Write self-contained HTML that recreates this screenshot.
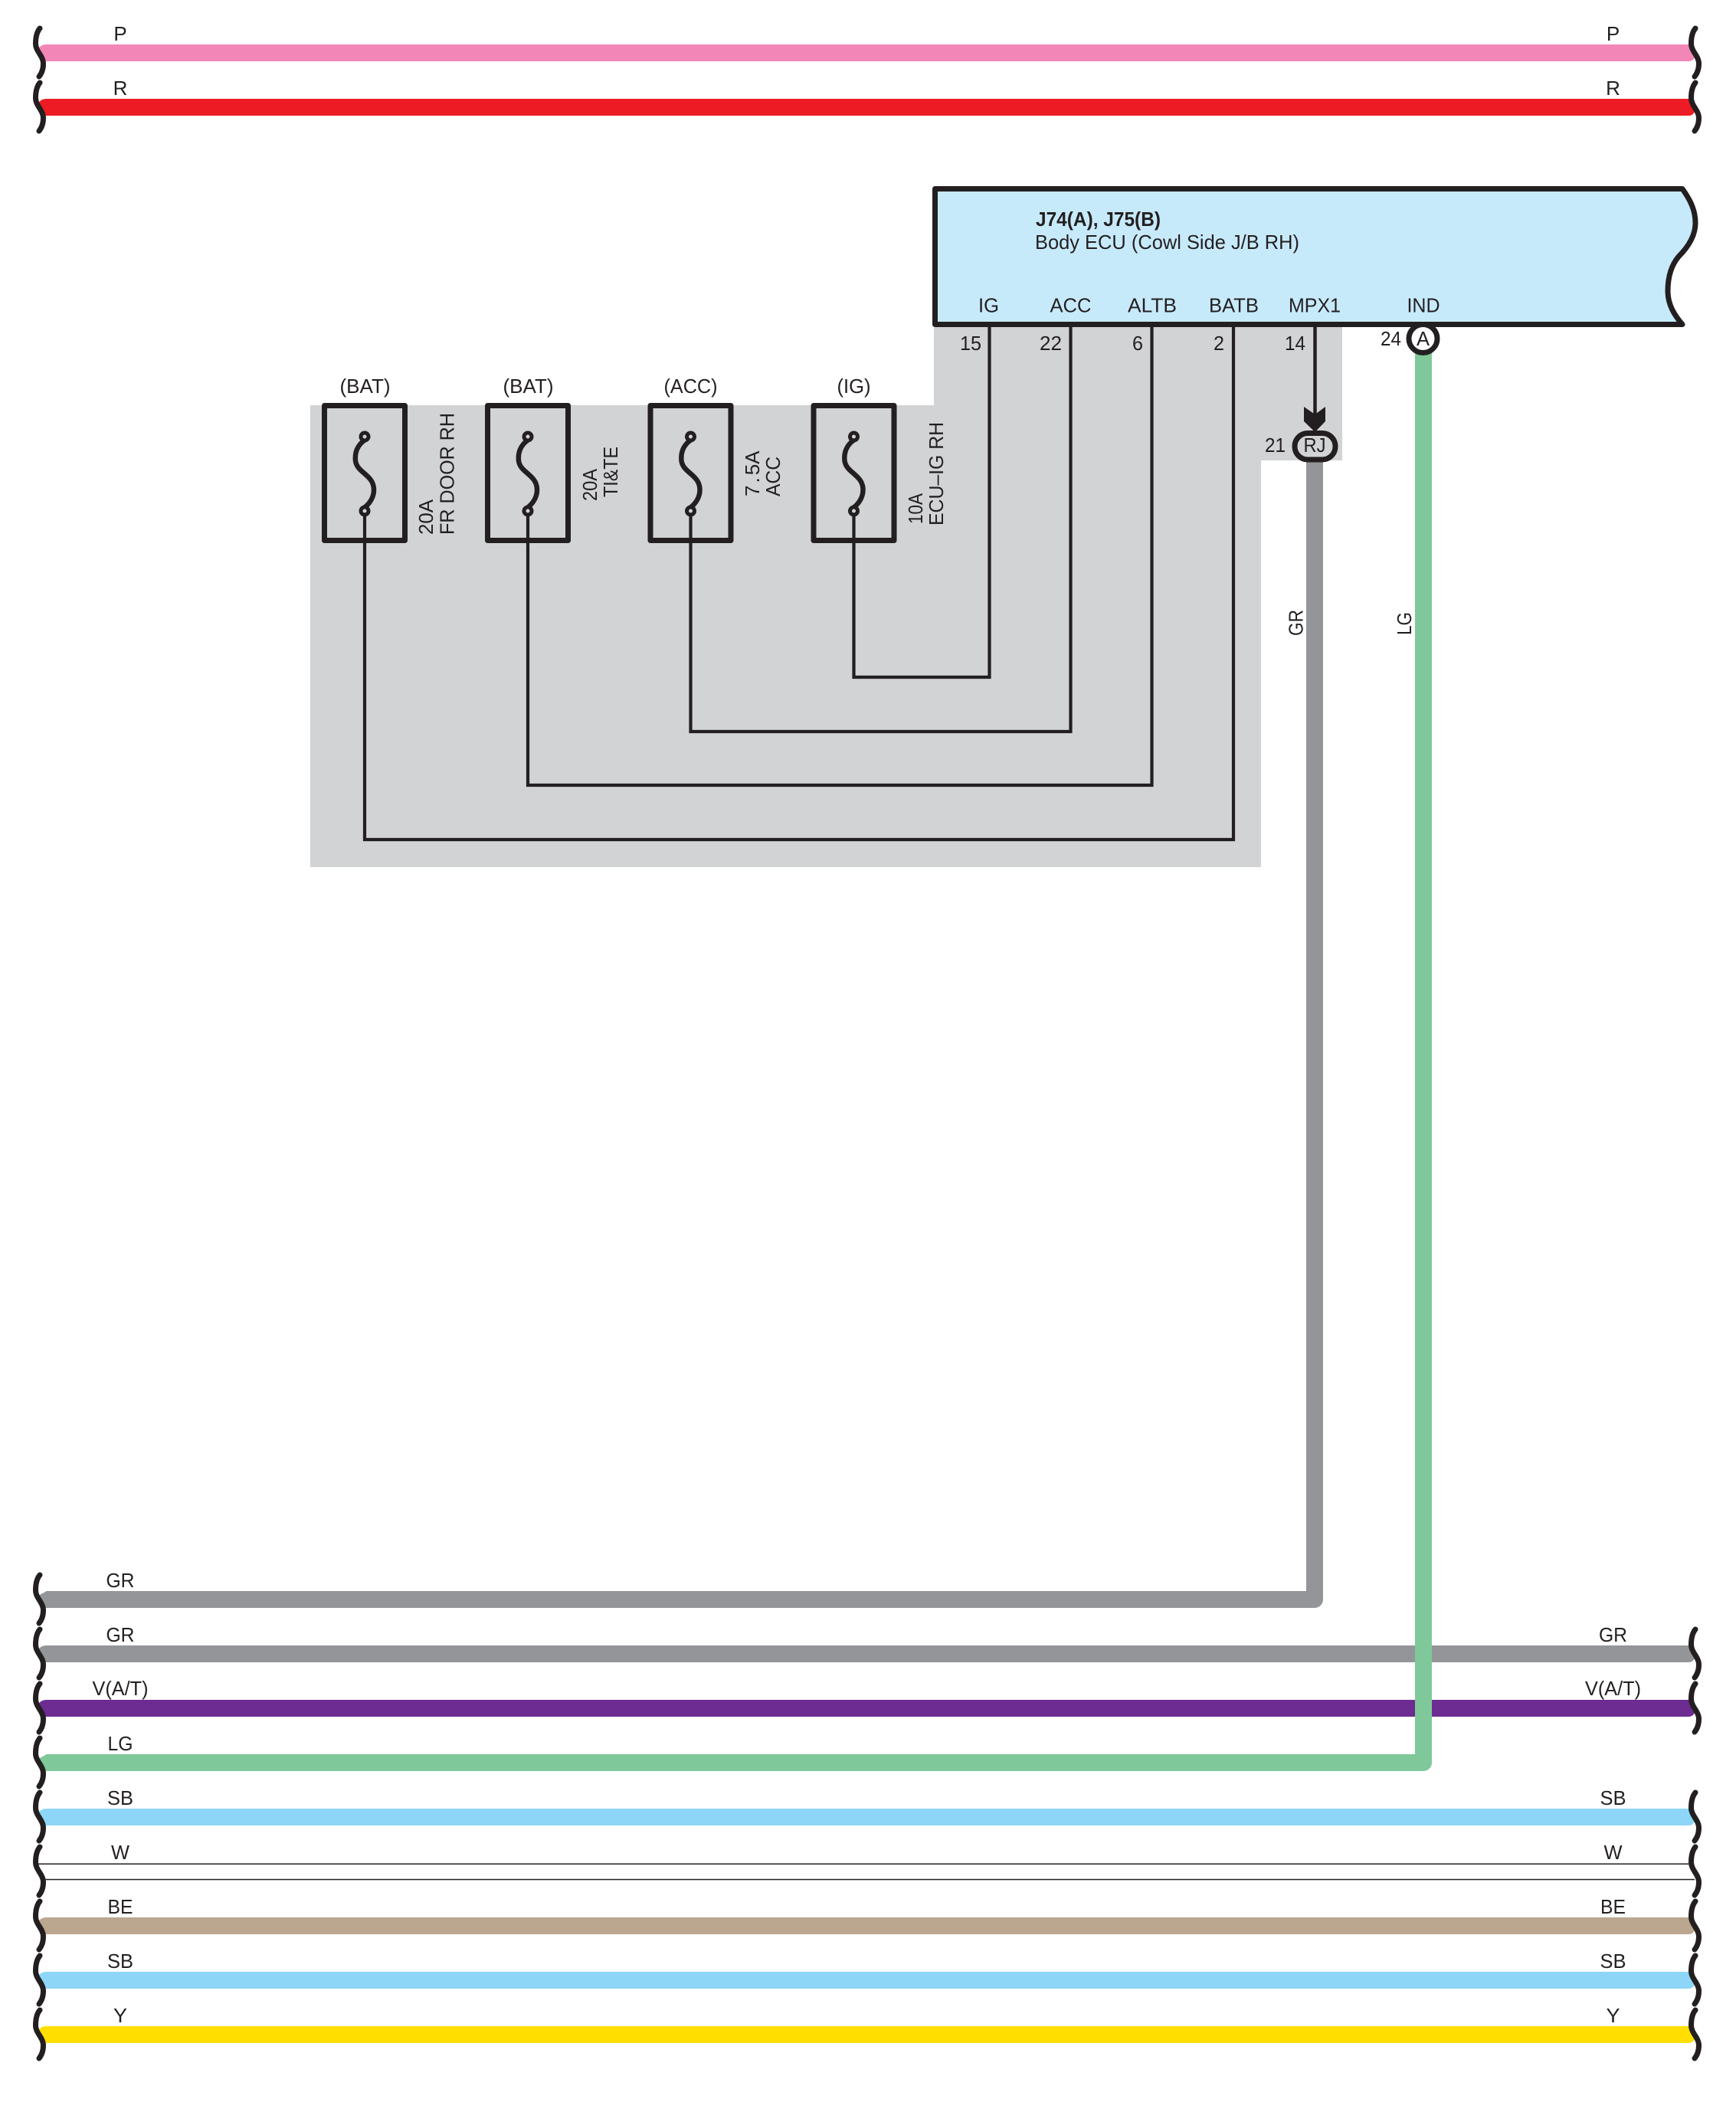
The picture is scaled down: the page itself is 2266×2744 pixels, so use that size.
<!DOCTYPE html>
<html>
<head>
<meta charset="utf-8">
<title>Body ECU wiring diagram</title>
<style>
html,body{margin:0;padding:0;background:#fff}
svg{display:block}
text{font-family:"Liberation Sans",sans-serif;font-size:26px;fill:#231f20}
.m{text-anchor:middle}
</style>
</head>
<body>
<svg xmlns="http://www.w3.org/2000/svg" width="2266" height="2744" viewBox="0 0 2266 2744">
<defs>
<path id="w" d="M52,-32 C47,-26 46.5,-18 46.5,-12 C46.5,-2 56.5,4 56.5,14 C56.5,20 55,26 51,31" fill="none" stroke="#231f20" stroke-width="7" stroke-linecap="round"/>
<path id="b" d="M61,-11 H2204 L2213,3 Q2211,11 2204,11 H58 L50,-5 Q53,-11 61,-11 Z"/>
<g id="fuse">
<rect x="-52.5" y="0" width="105" height="176" fill="none" stroke="#231f20" stroke-width="7" stroke-linejoin="round"/>
<path d="M0,45 C-10,52 -13,62 -12,72 C-10,88 12,90 12,110 C12,120 6,128 0,133" fill="none" stroke="#231f20" stroke-width="6.5"/>
<ellipse cx="0" cy="40.5" rx="5" ry="5" fill="#d1d3d4" stroke="#231f20" stroke-width="5"/>
<ellipse cx="0" cy="137.5" rx="5" ry="5" fill="#d1d3d4" stroke="#231f20" stroke-width="5"/>
</g>
</defs>

<rect width="2266" height="2744" fill="#fff"/>

<!-- grey panel -->
<polygon points="405,529 1219,529 1219,427 1752,427 1752,601 1646,601 1646,1132 405,1132" fill="#d1d3d4"/>

<!-- top wires -->
<use href="#b" transform="translate(0,69)" fill="#f287b7"/>
<use href="#b" transform="translate(0,140)" fill="#ed1c24"/>

<!-- bottom wires -->
<polyline points="60,2088 1716,2088 1716,596" fill="none" stroke="#939598" stroke-width="22" stroke-linejoin="round"/>
<path d="M61,2077 L50,2083 L58,2099 H80 V2077 Z" fill="#939598"/>
<use href="#b" transform="translate(0,2159)" fill="#939598"/>
<use href="#b" transform="translate(0,2230)" fill="#6d2c91"/>
<use href="#b" transform="translate(0,2372)" fill="#8dd6f7"/>
<use href="#b" transform="translate(0,2514)" fill="#bba68f"/>
<use href="#b" transform="translate(0,2585)" fill="#8dd6f7"/>
<use href="#b" transform="translate(0,2656)" fill="#ffde00"/>
<rect x="48" y="2432.5" width="2156" height="1.5" fill="#231f20"/>
<rect x="57" y="2452.8" width="2155" height="1.5" fill="#231f20"/>
<polyline points="60,2301 1858,2301 1858,460" fill="none" stroke="#7fc89a" stroke-width="22" stroke-linejoin="round"/>
<path d="M61,2290 L50,2296 L58,2312 H80 V2290 Z" fill="#7fc89a"/>

<!-- break marks, left -->
<use href="#w" transform="translate(0,69)"/>
<use href="#w" transform="translate(0,140)"/>
<use href="#w" transform="translate(0,2088)"/>
<use href="#w" transform="translate(0,2159)"/>
<use href="#w" transform="translate(0,2230)"/>
<use href="#w" transform="translate(0,2301)"/>
<use href="#w" transform="translate(0,2372)"/>
<use href="#w" transform="translate(0,2443)"/>
<use href="#w" transform="translate(0,2514)"/>
<use href="#w" transform="translate(0,2585)"/>
<use href="#w" transform="translate(0,2656)"/>
<!-- break marks, right -->
<use href="#w" transform="translate(2161,69)"/>
<use href="#w" transform="translate(2161,140)"/>
<use href="#w" transform="translate(2161,2159)"/>
<use href="#w" transform="translate(2161,2230)"/>
<use href="#w" transform="translate(2161,2372)"/>
<use href="#w" transform="translate(2161,2443)"/>
<use href="#w" transform="translate(2161,2514)"/>
<use href="#w" transform="translate(2161,2585)"/>
<use href="#w" transform="translate(2161,2656)"/>

<!-- wire labels left -->
<text class="m" x="157" y="53">P</text>
<text class="m" x="157" y="124">R</text>
<text class="m" x="157" y="2072" textLength="37" lengthAdjust="spacingAndGlyphs">GR</text>
<text class="m" x="157" y="2143" textLength="37" lengthAdjust="spacingAndGlyphs">GR</text>
<text class="m" x="157" y="2213" textLength="73" lengthAdjust="spacingAndGlyphs">V(A/T)</text>
<text class="m" x="157" y="2285" textLength="33" lengthAdjust="spacingAndGlyphs">LG</text>
<text class="m" x="157" y="2356" textLength="34" lengthAdjust="spacingAndGlyphs">SB</text>
<text class="m" x="157" y="2427" textLength="24" lengthAdjust="spacingAndGlyphs">W</text>
<text class="m" x="157" y="2498" textLength="33" lengthAdjust="spacingAndGlyphs">BE</text>
<text class="m" x="157" y="2569" textLength="34" lengthAdjust="spacingAndGlyphs">SB</text>
<text class="m" x="157" y="2640" textLength="18" lengthAdjust="spacingAndGlyphs">Y</text>
<!-- wire labels right -->
<text class="m" x="2105.5" y="53">P</text>
<text class="m" x="2105.5" y="124">R</text>
<text class="m" x="2105.5" y="2143" textLength="37" lengthAdjust="spacingAndGlyphs">GR</text>
<text class="m" x="2105.5" y="2213" textLength="73" lengthAdjust="spacingAndGlyphs">V(A/T)</text>
<text class="m" x="2105.5" y="2356" textLength="34" lengthAdjust="spacingAndGlyphs">SB</text>
<text class="m" x="2105.5" y="2427" textLength="24" lengthAdjust="spacingAndGlyphs">W</text>
<text class="m" x="2105.5" y="2498" textLength="33" lengthAdjust="spacingAndGlyphs">BE</text>
<text class="m" x="2105.5" y="2569" textLength="34" lengthAdjust="spacingAndGlyphs">SB</text>
<text class="m" x="2105.5" y="2640" textLength="18" lengthAdjust="spacingAndGlyphs">Y</text>

<!-- vertical wire labels -->
<text transform="translate(1700.5,830) rotate(-90)" textLength="34" lengthAdjust="spacingAndGlyphs">GR</text>
<text transform="translate(1842,829) rotate(-90)" textLength="30" lengthAdjust="spacingAndGlyphs">LG</text>

<!-- thin wiring -->
<g fill="none" stroke="#231f20" stroke-width="4.2" stroke-linejoin="miter">
<polyline points="476,670 476,1096 1610,1096 1610,424"/>
<polyline points="689,670 689,1025 1503.5,1025 1503.5,424"/>
<polyline points="901.5,670 901.5,955 1397.5,955 1397.5,424"/>
<polyline points="1114.5,670 1114.5,884 1291.5,884 1291.5,424"/>
<line x1="1716.5" y1="424" x2="1716.5" y2="545" stroke-width="4.5"/>
</g>

<!-- ECU box -->
<path d="M1220.5,246.5 H2196 C2207,262 2213,275 2213,291 C2213,310 2201,325 2191,335 C2181,347 2177,362 2177,380 C2177,398 2186,412 2196,423.5 H1220.5 Z" fill="#c7eafb" stroke="#231f20" stroke-width="7" stroke-linejoin="round"/>
<text x="1352" y="295" style="font-weight:bold" textLength="163" lengthAdjust="spacingAndGlyphs">J74(A), J75(B)</text>
<text x="1351" y="325" textLength="345" lengthAdjust="spacingAndGlyphs">Body ECU (Cowl Side J/B RH)</text>
<text class="m" x="1290.5" y="407.5" textLength="27" lengthAdjust="spacingAndGlyphs">IG</text>
<text class="m" x="1397.5" y="407.5" textLength="54" lengthAdjust="spacingAndGlyphs">ACC</text>
<text class="m" x="1504" y="407.5" textLength="64" lengthAdjust="spacingAndGlyphs">ALTB</text>
<text class="m" x="1610.5" y="407.5" textLength="65" lengthAdjust="spacingAndGlyphs">BATB</text>
<text class="m" x="1716" y="407.5" textLength="68" lengthAdjust="spacingAndGlyphs">MPX1</text>
<text class="m" x="1858" y="407.5" textLength="43" lengthAdjust="spacingAndGlyphs">IND</text>

<!-- pin numbers -->
<text x="1253" y="457" textLength="28" lengthAdjust="spacingAndGlyphs">15</text>
<text x="1357" y="457" textLength="29" lengthAdjust="spacingAndGlyphs">22</text>
<text x="1478" y="457" textLength="14" lengthAdjust="spacingAndGlyphs">6</text>
<text x="1584" y="457" textLength="14" lengthAdjust="spacingAndGlyphs">2</text>
<text x="1677" y="457" textLength="27" lengthAdjust="spacingAndGlyphs">14</text>
<text x="1802" y="451" textLength="27" lengthAdjust="spacingAndGlyphs">24</text>
<text x="1651" y="590" textLength="27" lengthAdjust="spacingAndGlyphs">21</text>

<!-- connector A -->
<circle cx="1857.5" cy="442" r="18.5" fill="#fff" stroke="#231f20" stroke-width="7"/>
<text class="m" x="1857.5" y="451" textLength="17" lengthAdjust="spacingAndGlyphs">A</text>

<!-- connector RJ + arrow -->
<polygon points="1702,531 1716.5,541 1730,531 1730,550 1716.5,564 1702,550" fill="#231f20"/>
<rect x="1690" y="565.5" width="53" height="34.5" rx="17" ry="17" fill="#d1d3d4" stroke="#231f20" stroke-width="7"/>
<text class="m" x="1716" y="590" textLength="29" lengthAdjust="spacingAndGlyphs">RJ</text>

<!-- fuses -->
<use href="#fuse" transform="translate(476,529.5)"/>
<use href="#fuse" transform="translate(689,529.5)"/>
<use href="#fuse" transform="translate(901.5,529.5)"/>
<use href="#fuse" transform="translate(1114.5,529.5)"/>
<text class="m" x="476.5" y="513" textLength="66" lengthAdjust="spacingAndGlyphs">(BAT)</text>
<text class="m" x="689.5" y="513" textLength="66" lengthAdjust="spacingAndGlyphs">(BAT)</text>
<text class="m" x="901.5" y="513" textLength="70" lengthAdjust="spacingAndGlyphs">(ACC)</text>
<text class="m" x="1114.5" y="513" textLength="44" lengthAdjust="spacingAndGlyphs">(IG)</text>

<!-- fuse labels -->
<text transform="translate(565,698) rotate(-90)" textLength="46" lengthAdjust="spacingAndGlyphs">20A</text>
<text transform="translate(592.5,698) rotate(-90)" textLength="159" lengthAdjust="spacingAndGlyphs">FR DOOR RH</text>
<text transform="translate(779,654) rotate(-90)" textLength="42" lengthAdjust="spacingAndGlyphs">20A</text>
<text transform="translate(806,649) rotate(-90)" textLength="66" lengthAdjust="spacingAndGlyphs">TI&amp;TE</text>
<text transform="translate(991,648) rotate(-90)" dx="0 3 3 0">7.5A</text>
<text transform="translate(1018,648) rotate(-90)" textLength="52" lengthAdjust="spacingAndGlyphs">ACC</text>
<text transform="translate(1204,684) rotate(-90)" textLength="40" lengthAdjust="spacingAndGlyphs">10A</text>
<text transform="translate(1231,686) rotate(-90)" textLength="135" lengthAdjust="spacingAndGlyphs">ECU–IG RH</text>
</svg>
</body>
</html>
